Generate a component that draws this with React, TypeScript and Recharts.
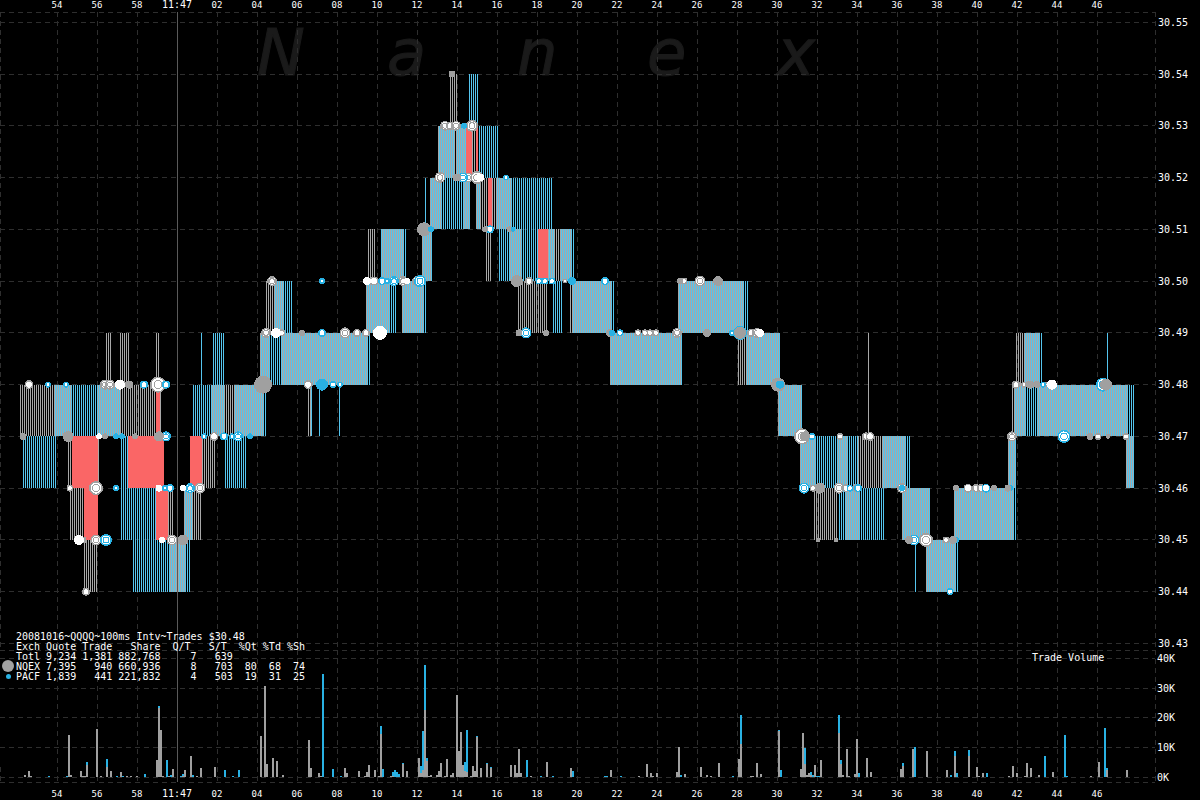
import { Bar, CartesianGrid, ComposedChart, ReferenceLine, Scatter, XAxis, YAxis, ZAxis } from "recharts";

const MONO = "'DejaVu Sans Mono', monospace";
const GRID = "#2e2e2e";
const GRAY = "#a8a8a8";
const BLUE = "#55c5ee";
const VOL_GRAY = "#a0a0a0";
const DOT_BLUE = "#29b1e3";
const RED = "#fa6666";

const timeDomain = [-8.85, 48.9];
const timeTicks = [-6, -4, -2, 0, 2, 4, 6, 8, 10, 12, 14, 16, 18, 20, 22, 24, 26, 28, 30, 32, 34, 36, 38, 40, 42, 44, 46];
const priceDomain = [30.42874, 30.55198];
const priceTicks = [30.43, 30.44, 30.45, 30.46, 30.47, 30.48, 30.49, 30.5, 30.51, 30.52, 30.53, 30.54, 30.55];
const volumeDomain = [-1.58, 42.79];
const volumeTicks = [0, 10, 20, 30, 40];

const legendLines = [
  "20081016~QQQQ~100ms Intv~Trades $30.48",
  "Exch Quote Trade   Share  Q/T   S/T  %Qt %Td %Sh",
  "Totl 9,234 1,381 882,768     7   639",
  "NQEX 7,395   940 660,936     8   703  80  68  74",
  "PACF 1,839   441 221,832     4   503  19  31  25",
];
const watermark = ["N", "a", "n", "e", "x"];

// quote runs: from second, to second, lower price of a one cent band
const nqexOnly = [
  [-4.6, -3.9, 30.44], [-5.3, -4.6, 30.45], [-0.4, -0.1, 30.45], [0.8, 1.3, 30.45], [31.9, 33.1, 30.45],
  [-5.4, -5.2, 30.46], [-3.9, -3.8, 30.46], [1.3, 2.0, 30.46], [34.1, 35.3, 30.46],
  [-7.8, -6.1, 30.47], [-2.8, -1.0, 30.47], [-0.8, -0.7, 30.47], [2.4, 2.9, 30.47], [6.6, 6.8, 30.47], [41.8, 41.9, 30.47],
  [-3.5, -3.2, 30.48], [-2.8, -2.3, 30.48], [-1.0, -0.8, 30.48], [28.1, 28.5, 30.48], [34.6, 34.7, 30.48], [42.0, 42.4, 30.48],
  [4.5, 4.9, 30.49], [17.1, 18.6, 30.49], [19.7, 19.8, 30.49],
  [9.6, 10.0, 30.5], [15.5, 15.8, 30.5], [18.9, 19.2, 30.5],
  [15.2, 15.6, 30.51], [15.8, 16.0, 30.51],
  [13.9, 14.0, 30.52], [14.8, 15.0, 30.52],
  [13.7, 14.1, 30.53],
];
const pacfOnly = [
  [-2.2, -0.3, 30.44], [0.5, 0.7, 30.44], [36.9, 37.0, 30.44], [39.0, 39.1, 30.44],
  [-2.8, -1.0, 30.45], [33.1, 33.5, 30.45], [34.2, 35.4, 30.45], [41.9, 42.0, 30.45],
  [-7.7, -6.0, 30.46], [-2.8, -2.4, 30.46], [2.4, 3.5, 30.46], [32.0, 33.1, 30.46], [33.6, 34.1, 30.46], [36.5, 36.7, 30.46],
  [-5.2, -3.9, 30.47], [0.8, 1.8, 30.47], [4.4, 4.5, 30.47], [6.7, 6.8, 30.47], [7.1, 7.2, 30.47], [8.1, 8.2, 30.47], [42.5, 43.1, 30.47], [47.6, 47.9, 30.47],
  [1.2, 1.3, 30.48], [1.8, 2.4, 30.48], [4.7, 5.3, 30.48], [9.6, 9.7, 30.48], [43.2, 43.3, 30.48], [46.5, 46.6, 30.48],
  [5.4, 5.8, 30.49], [10.7, 11.0, 30.49], [12.4, 12.5, 30.49], [18.8, 19.3, 30.49], [21.8, 21.9, 30.49], [28.4, 28.6, 30.49],
  [10.2, 10.3, 30.5], [11.4, 11.5, 30.5], [16.1, 16.7, 30.5], [17.3, 18.1, 30.5], [19.8, 19.9, 30.5],
  [12.4, 12.5, 30.51], [13.3, 14.4, 30.51], [16.8, 18.8, 30.51],
  [15.1, 16.1, 30.52],
  [14.6, 15.1, 30.53],
];
const bothExchanges = [
  [-0.3, 0.5, 30.44], [37.5, 39.0, 30.44],
  [0.4, 0.8, 30.45], [33.5, 34.2, 30.45], [36.3, 37.7, 30.45], [38.9, 41.9, 30.45],
  [31.2, 32.0, 30.46], [33.1, 33.6, 30.46], [35.3, 36.5, 30.46], [41.6, 42.0, 30.46], [47.5, 47.9, 30.46],
  [-6.1, -5.2, 30.47], [-3.9, -2.8, 30.47], [1.8, 2.4, 30.47], [2.9, 4.4, 30.47], [30.1, 31.3, 30.47], [41.9, 42.5, 30.47], [43.1, 47.6, 30.47],
  [4.2, 4.7, 30.48], [5.3, 9.6, 30.48], [21.7, 25.3, 30.48], [28.5, 30.2, 30.48], [42.4, 43.2, 30.48],
  [4.9, 5.4, 30.49], [9.5, 10.7, 30.49], [11.3, 12.4, 30.49], [19.8, 21.8, 30.49], [25.1, 28.4, 30.49],
  [10.3, 11.4, 30.5], [12.3, 12.8, 30.5], [16.7, 17.3, 30.5], [18.6, 18.9, 30.5], [19.2, 19.8, 30.5],
  [12.7, 13.3, 30.51], [14.4, 14.7, 30.51], [15.0, 15.2, 30.51], [16.0, 16.8, 30.51],
  [13.1, 13.9, 30.52], [14.0, 14.5, 30.52],
];
const crossedRuns = [
  [-4.6, -3.9, 30.45], [-1.0, -0.4, 30.45],
  [-5.2, -3.9, 30.46], [-2.4, -0.6, 30.46], [0.7, 1.3, 30.46],
  [-1.0, -0.8, 30.47],
  [18.1, 18.6, 30.5],
  [15.6, 15.8, 30.51],
  [14.5, 14.8, 30.52], [15.0, 15.1, 30.52],
];

// trade prints: second, price, trade size
const grayRings = [
  [-7.4, 30.48, 20], [-3.6, 30.48, 25], [-3.35, 30.48, 25], [-0.95, 30.48, 64], [1.85, 30.47, 20], [-5.35, 30.46, 12], [-4.05, 30.46, 49], [1.15, 30.46, 30],
  [-4.05, 30.45, 30], [-0.25, 30.45, 30], [-4.55, 30.44, 16], [4.75, 30.5, 25], [9.85, 30.5, 20], [11.3, 30.5, 25], [12, 30.5, 25], [4.45, 30.49, 25],
  [5.25, 30.49, 12], [6.65, 30.48, 9], [9, 30.49, 16], [9.45, 30.49, 16], [6.55, 30.48, 20], [13.4, 30.53, 25], [13.65, 30.53, 16], [13.95, 30.53, 25],
  [14.75, 30.53, 36], [13.15, 30.52, 30], [14.55, 30.52, 25], [15, 30.52, 42], [17.6, 30.5, 16], [19.4, 30.5, 6], [25.35, 30.5, 12], [26.15, 30.5, 30],
  [23.05, 30.49, 12], [23.4, 30.49, 12], [23.65, 30.49, 12], [23.95, 30.49, 12], [25, 30.49, 25], [28.7, 30.49, 16], [29, 30.49, 25], [31.25, 30.47, 64],
  [33.15, 30.47, 12], [34.45, 30.47, 16], [34.65, 30.47, 20], [41.75, 30.47, 25], [46.05, 30.47, 12], [47.45, 30.47, 12], [31.8, 30.46, 12], [33.1, 30.46, 30],
  [33.45, 30.46, 16], [33.95, 30.46, 16], [36.25, 30.46, 25], [39.55, 30.46, 20], [39.95, 30.46, 16], [40.2, 30.46, 16], [37.45, 30.45, 49], [38.45, 30.45, 12],
  [41.95, 30.48, 16], [42.35, 30.48, 9], [43.45, 30.48, 6], [8.4, 30.49, 30],
];
const blueRings = [
  [-6.45, 30.48, 9], [-5.55, 30.48, 9], [-1.65, 30.48, 16], [-0.55, 30.48, 16], [1.35, 30.47, 9], [2.35, 30.47, 16], [2.75, 30.47, 9], [3.05, 30.47, 25],
  [-0.55, 30.47, 25], [-3.05, 30.46, 9], [-0.6, 30.46, 9], [-0.35, 30.46, 16], [0.65, 30.46, 25], [-3.55, 30.45, 36], [7.25, 30.5, 9], [10.25, 30.5, 16],
  [10.5, 30.5, 9], [10.85, 30.5, 25], [12.15, 30.5, 36], [7.25, 30.49, 16], [7.8, 30.48, 12], [8.15, 30.48, 9], [14.3, 30.52, 25], [16.45, 30.52, 9],
  [15.65, 30.51, 16], [17.45, 30.49, 30], [18.1, 30.5, 12], [18.4, 30.5, 12], [18.75, 30.5, 12], [21.4, 30.5, 16], [22.15, 30.49, 12], [27.75, 30.49, 9],
  [28.15, 30.49, 49], [31.75, 30.47, 12], [44.35, 30.47, 42], [31.35, 30.46, 30], [33.65, 30.46, 12], [34.05, 30.46, 16], [40.45, 30.46, 20], [41.65, 30.46, 9],
  [36.85, 30.45, 30], [38.95, 30.45, 9], [38.65, 30.44, 12], [43.3, 30.48, 9], [46.3, 30.48, 49],
];
const grayDots = [
  [-2.4, 30.48, 16], [4.3, 30.48, 81], [-7.7, 30.47, 12], [-5.45, 30.47, 30], [-3.6, 30.47, 9], [-2.1, 30.47, 9], [-0.9, 30.47, 25], [-4.7, 30.45, 12],
  [0.3, 30.45, 30], [6.25, 30.49, 9], [13.75, 30.54, 12], [14, 30.52, 16], [15.4, 30.51, 9], [16.65, 30.51, 9], [17, 30.5, 36], [17.1, 30.49, 12],
  [18.45, 30.49, 9], [25.15, 30.5, 9], [26.5, 30.49, 16], [30.05, 30.48, 49], [31.4, 30.47, 25], [32.15, 30.46, 30], [32.05, 30.45, 6], [32.95, 30.45, 6],
  [38.95, 30.46, 9], [40.85, 30.46, 9], [41.55, 30.46, 12], [36.6, 30.45, 16], [38.8, 30.45, 16], [42.65, 30.48, 16], [43, 30.48, 12], [45.65, 30.47, 12],
  [46.55, 30.47, 6], [46.45, 30.48, 36], [28.15, 30.49, 36], [12.35, 30.51, 49], [21.65, 30.49, 16], [27.05, 30.5, 25],
];
const blueDots = [
  [-2.75, 30.47, 9], [-3.05, 30.47, 9], [3.65, 30.47, 9], [7.25, 30.48, 36], [14.35, 30.53, 9], [12.7, 30.51, 9], [16.8, 30.51, 6], [19.75, 30.5, 16],
  [21.75, 30.49, 9], [30.15, 30.48, 16], [36.25, 30.46, 9],
];
const whiteDots = [
  [-2.85, 30.48, 25], [10.15, 30.49, 49], [-4.9, 30.45, 25], [-0.75, 30.45, 9], [-0.9, 30.46, 12], [0.3, 30.46, 9], [4.95, 30.49, 25], [-3.9, 30.47, 9],
  [11.5, 30.5, 9], [9.5, 30.5, 16], [15.15, 30.52, 16], [43.75, 30.48, 25], [29.15, 30.49, 16],
];

// traded volume in thousands of shares per 100ms slot
const nqexTimes = [
  -7.6, -7.4, -7.3, -5.4, -5.3, -4.8, -4.7, -4.6, -4.5, -4.0, -3.8, -3.5, -3.3, -2.8, -2.5, -2.3, -2.0, -1.0, -0.9, -0.8, -0.7, -0.4, -0.2, 0.3, 0.4, 0.7, 1.0, 1.2, 1.9,
  4.2, 4.4, 4.5, 4.8, 5.0, 5.3, 6.3, 6.6, 6.7, 7.1, 7.2, 7.9, 8.4, 8.5, 9.1, 9.4, 9.5, 9.6, 9.9, 10.1, 10.2, 10.7, 10.8,
  11.3, 11.5, 12.1, 12.2, 12.3, 12.4, 12.5, 12.6, 12.7, 13.0, 13.1, 13.2, 13.4, 13.5, 13.7, 13.8, 14.0, 14.1, 14.2, 14.3, 14.4, 14.5, 14.7, 14.8, 14.9, 15.0, 15.2, 15.5, 15.7,
  16.7, 16.9, 17.0, 17.1, 17.2, 17.7, 18.5, 19.5, 19.7, 21.7, 23.1, 23.4, 23.5, 23.7, 23.8, 24.0, 25.0, 25.1, 25.4, 26.2, 26.5, 26.7, 27.1, 27.2, 28.1, 28.2, 28.7, 28.8, 29.0, 29.2, 30.1,
  31.2, 31.3, 31.4, 31.5, 31.6, 31.7, 31.9, 32.2, 33.0, 33.1, 33.2, 33.3, 33.5, 33.6, 33.9, 34.0, 34.5, 34.7, 36.2, 36.3, 36.8, 37.4, 37.5, 38.5, 38.9, 39.6, 40.0, 40.1, 40.3, 40.9,
  41.6, 41.8, 42.0, 42.4, 42.5, 42.7, 42.8, 43.1, 43.5, 43.7, 43.8, 45.7, 46.1, 46.5, 46.6, 47.5,
];
const nqexShares = [
  0.8, 2.1, 0.4, 14.2, 0.8, 2.1, 0.3, 0.3, 4.1, 16.2, 0.5, 3.6, 2.1, 1.8, 0.5, 0.5, 0.3, 5.8, 23.3, 15.9, 0.5, 0.3, 2.8, 0.3, 2.5, 7.2, 0.5, 3.1, 3.5,
  13.9, 30.6, 4.5, 6.5, 5.5, 0.8, 0.2, 12.5, 3.1, 1.5, 0.3, 0.2, 3.1, 1.5, 2.1, 0.3, 1.8, 4.1, 2.5, 0.5, 14.5, 0.3, 0.5,
  4.5, 2.1, 6.5, 1.5, 2.5, 22.6, 5.5, 0.3, 0.8, 0.8, 2.1, 4.8, 0.3, 6.2, 0.8, 1.5, 27.6, 8.8, 15.2, 4.1, 2.1, 1.8, 0.5, 3.8, 2.1, 13.4, 3.1, 4.5, 3.0,
  4.1, 4.1, 1.5, 9.5, 1.5, 0.5, 5.1, 0.2, 3.1, 2.5, 0.5, 0.2, 4.5, 1.5, 0.3, 1.5, 1.8, 10.2, 1.1, 3.5, 0.8, 0.3, 4.8, 0.2, 6.2, 11.2, 0.5, 0.3, 4.8, 1.1, 15.5,
  2.9, 14.9, 4.5, 0.8, 1.3, 0.8, 4.1, 5.8, 0.2, 14.8, 4.5, 0.8, 9.5, 0.5, 1.1, 12.9, 6.5, 1.8, 2.8, 3.8, 9.5, 0.2, 8.8, 2.5, 7.2, 7.2, 3.5, 0.5, 1.5, 0.2,
  0.5, 3.8, 1.5, 0.5, 4.8, 3.1, 0.2, 0.8, 0.2, 0.2, 1.8, 0.5, 5.1, 2.5, 0.2, 2.5,
];
const pacfTimes = [
  -6.4, -5.5, -4.5, -3.5, -3.0, -2.7, -1.6, -0.9, -0.5, -0.3, 0.2, 0.3, 0.8, 1.4, 2.4, 2.5, 2.6, 2.8, 3.1, 3.7, 7.3, 7.8, 8.2, 10.2, 10.3, 10.5, 10.8, 10.9, 11.0, 11.1,
  11.3, 12.2, 12.3, 12.4, 12.5, 14.4, 14.5, 15.0, 15.5, 15.7, 16.5, 16.8, 17.5, 18.2, 18.8, 19.8, 21.4, 21.5, 21.8, 22.2, 25.2, 27.8, 28.2, 30.1, 30.2,
  31.4, 31.7, 31.8, 32.0, 32.1, 33.1, 33.2, 33.7, 34.1, 36.3, 36.9, 38.7, 38.9, 39.0, 39.6, 40.5, 41.7, 43.4, 44.4, 44.5, 46.4, 46.5,
];
const pacfShares = [
  0.3, 0.3, 1.0, 2.6, 0.5, 0.3, 1.1, 0.5, 5.8, 0.8, 0.3, 0.8, 0.8, 0.2, 2.5, 0.2, 0.2, 0.5, 2.5, 0.2, 34.7, 2.8, 0.6, 2.7, 2.8, 0.2, 1.3, 2.5, 1.8, 1.1,
  0.3, 2.3, 13, 15.1, 1, 3, 14.1, 0.5, 0.3, 0.5, 0.2, 0.2, 5.8, 0.5, 0.5, 2.1, 0.5, 0.5, 0.2, 0.5, 0.8, 0.5, 9.7, 0.4, 2.5,
  5.3, 1.0, 0.8, 0.5, 0.5, 6.1, 1.3, 0.2, 1.5, 1.0, 10.2, 0.8, 1.6, 1.5, 2.0, 1.5, 0.2, 7.2, 14.2, 0.5, 16.5, 0.6,
];

type Band = [number, number];
interface QuoteSlot { t: number; nqex?: Band; pacf?: Band; crossed?: Band }

function buildQuoteSlots(): QuoteSlot[] {
  const slots = new Map<number, QuoteSlot>();
  const paint = (runs: number[][], keys: ("nqex" | "pacf" | "crossed")[]) => {
    for (const [from, to, low] of runs) {
      for (let k = Math.round(from * 10); k < Math.round(to * 10); k++) {
        const slot = slots.get(k) ?? { t: k / 10 };
        for (const key of keys) {
          const band = slot[key];
          slot[key] = band ? [Math.min(band[0], low), Math.max(band[1], low + 0.01)] : [low, low + 0.01];
        }
        slots.set(k, slot);
      }
    }
  };
  paint(nqexOnly, ["nqex"]);
  paint(pacfOnly, ["pacf"]);
  paint(bothExchanges, ["nqex", "pacf"]);
  paint(crossedRuns, ["crossed"]);
  return [...slots.values()].sort((a, b) => a.t - b.t);
}

function buildVolumeSlots() {
  const slots = new Map<number, { t: number; nqex: number; pacf: number }>();
  nqexTimes.forEach((t, i) => slots.set(t, { t, nqex: nqexShares[i], pacf: 0 }));
  pacfTimes.forEach((t, i) => {
    const slot = slots.get(t) ?? { t, nqex: 0, pacf: 0 };
    slot.pacf = pacfShares[i];
    slots.set(t, slot);
  });
  return [...slots.values()].sort((a, b) => a.t - b.t);
}

const toPoints = (rows: number[][]) => rows.map(([t, price, size]) => ({ t, price, size }));

function timeLabel(t: number): string {
  if (t === 0) return "11:47";
  const sec = t < 0 ? 60 + t : t;
  return String(sec).padStart(2, "0");
}

function TimeTick({ x, payload, labelY }: any) {
  return (
    <text x={x} y={labelY} textAnchor="middle" fontFamily={MONO} fontSize={payload.value === 0 ? 10 : 9} fill="#fff">
      {timeLabel(payload.value)}
    </text>
  );
}

// one pixel column per exchange inside the 100ms slot, left or right of the slot centre
function QuoteColumn({ x, y, width, height, color, side }: any) {
  if (!(Math.abs(height) > 0)) return null;
  const centre = Math.round(x + width / 2);
  return <rect x={side === "left" ? centre - 1 : centre} y={y} width={1} height={height} style={{ fill: color }} />;
}

function Ring({ cx, cy, width, color }: any) {
  const r = width / 2;
  return (
    <g>
      <circle cx={cx} cy={cy} r={r} fill={color} />
      <circle cx={cx} cy={cy} r={Math.max(r - 1.5, 1)} fill="#fff" />
      {r >= 4.5 && <circle cx={cx} cy={cy} r={r / 2} fill="none" stroke={color} />}
    </g>
  );
}

function Dot({ cx, cy, width, color }: any) {
  return <circle cx={cx} cy={cy} r={width / 2} fill={color} />;
}

const quoteSlots = buildQuoteSlots();
const volumeSlots = buildVolumeSlots();

export default function App() {
  return (
    <div style={{ position: "absolute", left: 0, top: 0, width: 1200, height: 800, background: "#000", overflow: "hidden" }}>
      <style>{"svg path, svg rect, svg circle, svg line { shape-rendering: crispEdges; }"}</style>
      <svg width={1200} height={100} style={{ position: "absolute", left: 0, top: 0 }}>
        {watermark.map((letter, i) => (
          <text key={i} x={257 + i * 130} y={75} fontFamily="'DejaVu Sans', sans-serif" fontStyle="italic" fontSize={64} fill="#1a1a1a" stroke="#1a1a1a">
            {letter}
          </text>
        ))}
      </svg>

      <div style={{ position: "absolute", left: 0, top: 0 }}>
        <ComposedChart width={1200} height={650} data={quoteSlots} margin={{ top: 0, right: 0, bottom: 0, left: 0 }}>
          <CartesianGrid stroke={GRID} strokeDasharray="5 4" />
          <XAxis
            dataKey="t"
            type="number"
            orientation="top"
            domain={timeDomain}
            ticks={timeTicks}
            interval={0}
            height={12}
            axisLine={false}
            tickLine={false}
            allowDataOverflow
            tick={(p: any) => <TimeTick {...p} labelY={8} />}
          />
          <XAxis xAxisId="nqexLine" dataKey="t" type="number" domain={timeDomain} allowDataOverflow hide />
          <XAxis xAxisId="pacfLine" dataKey="t" type="number" domain={timeDomain} allowDataOverflow hide />
          <XAxis xAxisId="crossed" dataKey="t" type="number" domain={timeDomain} allowDataOverflow hide />
          <YAxis
            dataKey="price"
            type="number"
            orientation="right"
            domain={priceDomain}
            ticks={priceTicks}
            interval={0}
            width={45}
            axisLine={false}
            tickLine={false}
            tickSize={0}
            tickMargin={3}
            allowDataOverflow
            tickFormatter={(v: number) => v.toFixed(2)}
            tick={{ fontFamily: MONO, fontSize: 10, fill: "#fff" }}
          />
          <ZAxis dataKey="size" type="number" domain={[0, 81]} range={[0, 81 * Math.PI]} />
          <ReferenceLine x={0} stroke="#5a5a5a" />
          <Bar dataKey="nqex" xAxisId="nqexLine" fill={GRAY} barSize={2} isAnimationActive={false} shape={(p: any) => <QuoteColumn {...p} color={GRAY} side="left" />} />
          <Bar dataKey="pacf" xAxisId="pacfLine" fill={BLUE} barSize={2} isAnimationActive={false} shape={(p: any) => <QuoteColumn {...p} color={BLUE} side="right" />} />
          <Bar dataKey="crossed" xAxisId="crossed" fill={RED} barSize={2} isAnimationActive={false} />
          <Scatter data={toPoints(grayRings)} isAnimationActive={false} shape={(p: any) => <Ring {...p} color={VOL_GRAY} />} />
          <Scatter data={toPoints(blueRings)} isAnimationActive={false} shape={(p: any) => <Ring {...p} color={DOT_BLUE} />} />
          <Scatter data={toPoints(grayDots)} isAnimationActive={false} shape={(p: any) => <Dot {...p} color={VOL_GRAY} />} />
          <Scatter data={toPoints(blueDots)} isAnimationActive={false} shape={(p: any) => <Dot {...p} color={DOT_BLUE} />} />
          <Scatter data={toPoints(whiteDots)} isAnimationActive={false} shape={(p: any) => <Dot {...p} color="#fff" />} />
        </ComposedChart>
      </div>

      <div style={{ position: "absolute", left: 0, top: 650 }}>
        <ComposedChart width={1200} height={150} data={volumeSlots} margin={{ top: 0, right: 0, bottom: 0, left: 0 }}>
          <CartesianGrid stroke={GRID} strokeDasharray="5 4" />
          <XAxis
            dataKey="t"
            type="number"
            domain={timeDomain}
            ticks={timeTicks}
            interval={0}
            height={18}
            axisLine={false}
            tickLine={false}
            allowDataOverflow
            tick={(p: any) => <TimeTick {...p} labelY={147} />}
          />
          <YAxis
            type="number"
            orientation="right"
            domain={volumeDomain}
            ticks={volumeTicks}
            interval={0}
            width={45}
            axisLine={false}
            tickLine={false}
            tickSize={0}
            tickMargin={2}
            allowDataOverflow
            tickFormatter={(v: number) => `${v}K`}
            tick={{ fontFamily: MONO, fontSize: 10, fill: "#fff" }}
          />
          <ReferenceLine x={0} stroke="#5a5a5a" />
          <Bar dataKey="nqex" stackId="volume" fill={VOL_GRAY} barSize={2} isAnimationActive={false} />
          <Bar dataKey="pacf" stackId="volume" fill={DOT_BLUE} barSize={2} isAnimationActive={false} />
        </ComposedChart>
      </div>

      <pre style={{ position: "absolute", left: 16, top: 632, margin: 0, fontFamily: MONO, fontSize: 10, lineHeight: "10px", color: "#fff" }}>
        {legendLines.join("\n")}
      </pre>
      <div style={{ position: "absolute", left: 2, top: 660, width: 12, height: 12, borderRadius: 6, background: VOL_GRAY }} />
      <div style={{ position: "absolute", left: 6, top: 674, width: 5, height: 5, borderRadius: 3, background: DOT_BLUE }} />
      <div style={{ position: "absolute", left: 1032, top: 653, fontFamily: MONO, fontSize: 10, lineHeight: "10px", color: "#fff" }}>
        Trade Volume
      </div>
    </div>
  );
}
